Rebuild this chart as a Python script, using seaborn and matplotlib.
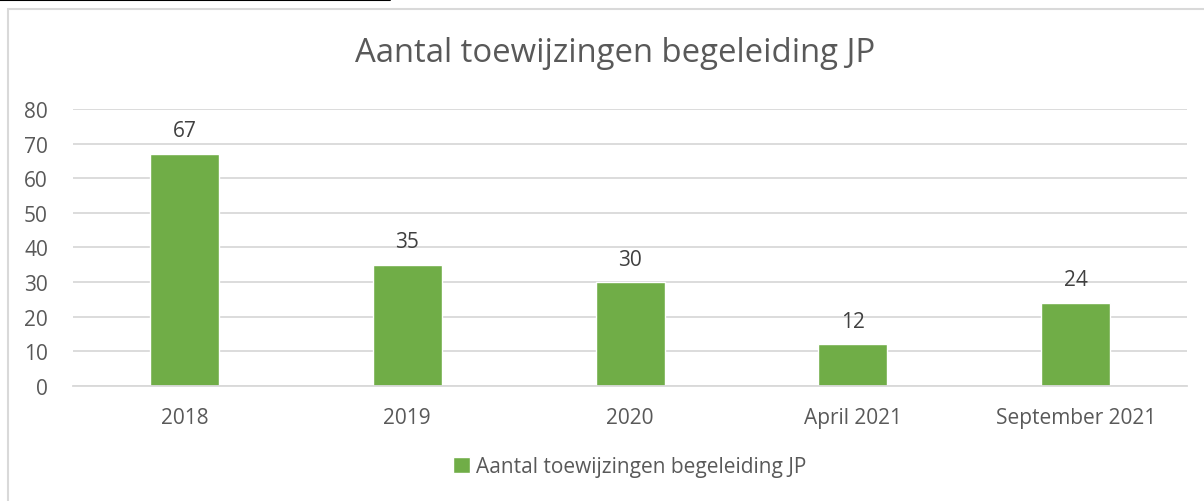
import matplotlib.pyplot as plt
import matplotlib.patches as mpatches
from matplotlib.lines import Line2D
import seaborn as sns
import pandas as pd

# data
categorieen = ['2018', '2019', '2020', 'April 2021', 'September 2021']
aantallen = [67, 35, 30, 12, 24]
reeks = 'Aantal toewijzingen begeleiding JP'

df = pd.DataFrame({'Periode': categorieen, 'Aantal': aantallen})

sns.set_theme(style='white')
plt.rcParams['font.family'] = ['Open Sans', 'DejaVu Sans']

groen = '#70AD47'
grijs = '#595959'

fig = plt.figure(figsize=(12.04, 5.02), dpi=100)
ax = fig.add_axes([0.0606, 0.229, 0.9254, 0.552])

sns.barplot(data=df, x='Periode', y='Aantal', color=groen, width=0.31,
            saturation=1, ax=ax, label=reeks)

for c in ax.containers:
    ax.bar_label(c, padding=9, fontsize=15, color='#404040')

ax.set_ylim(0, 80)
ax.set_yticks(range(0, 81, 10))
ax.set_xlim(-0.5, 4.5)
ax.yaxis.grid(True, color='#D9D9D9', linewidth=1.3)
ax.set_axisbelow(True)
for s in ['top', 'right', 'left']:
    ax.spines[s].set_visible(False)
ax.spines['bottom'].set_color('#D9D9D9')
ax.spines['bottom'].set_linewidth(1.3)
ax.tick_params(axis='both', labelsize=15, labelcolor=grijs, length=0)
ax.tick_params(axis='y', pad=18)
ax.tick_params(axis='x', pad=15)
ax.set_xlabel('')
ax.set_ylabel('')

fig.text(0.511, 1 - 54 / 502, reeks, ha='center', va='center', fontsize=23.7,
         color=grijs)

ax.legend(loc='center', bbox_to_anchor=(0.5, -0.292), frameon=False,
          fontsize=15, labelcolor=grijs, handlelength=0.8, handleheight=0.8,
          handletextpad=0.3)

# kader om de grafiek
fig.add_artist(mpatches.Rectangle((8 / 1204, -0.05), 1.2, 1 - 10 / 502 + 0.05,
                                  fill=False, edgecolor='#D9D9D9', linewidth=1.5,
                                  transform=fig.transFigure))
fig.add_artist(Line2D([0, 390 / 1204], [1 - 1 / 502, 1 - 1 / 502], color='black',
                      linewidth=1.5, transform=fig.transFigure))

fig.savefig('out.png', dpi=100)
